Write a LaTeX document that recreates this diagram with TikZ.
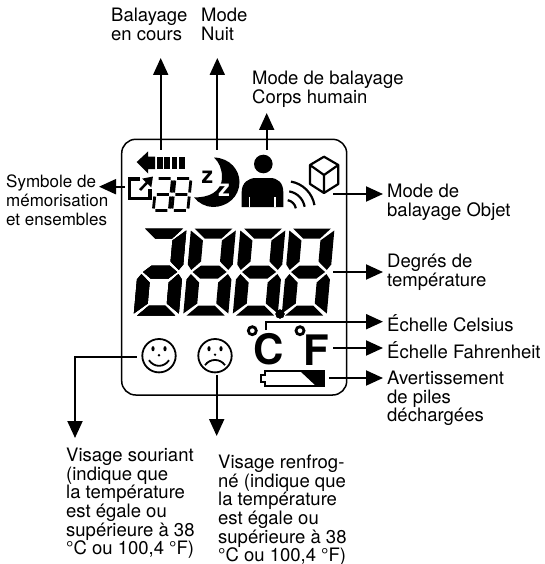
\documentclass[tikz,border=0pt]{standalone}
\usepackage{fontspec}
\setmainfont{TeX Gyre Heros}
\usetikzlibrary{arrows.meta}
\tikzset{
  lbl/.style={anchor=north west, inner sep=0pt, align=left, font=\fontsize{18.5}{18.6}\selectfont},
  conn/.style={line width=2pt, -{Triangle[length=17pt, width=15pt]}},
  face/.style={line width=1.8pt}
}
\newcommand{\lcdmost}{
  \fill (3,0) -- (41,0) -- (31,10) -- (14,10) -- cycle;
  \fill (44.5,2) -- (44.5,36) -- (40.5,41.5) -- (31.5,33) -- (31.5,12) -- cycle;
  \fill (5,43.5) -- (13,37) -- (31,37) -- (39,43.5) -- (31,50) -- (13,50) -- cycle;
  \fill (44.5,51) -- (44.5,85) -- (31.5,75) -- (31.5,54) -- (40.5,45.5) -- cycle;
  \fill (3,87) -- (41,87) -- (30,77) -- (14,77) -- cycle;
  \fill (-0.5,51) -- (-0.5,85) -- (12.5,75) -- (12.5,54) -- (3.5,45.5) -- cycle;
}
\newcommand{\lcdleft}{
  \fill (-0.5,2) -- (-0.5,36) -- (3.5,41.5) -- (12.5,33) -- (12.5,12) -- cycle;
}
\newcommand{\lcdsmall}{
  \draw (2,0) -- (14,0) (16,2) -- (16,14) (2,16) -- (14,16) (16,18) -- (16,30)
        (2,32) -- (14,32) (0,18) -- (0,30);
}
\begin{document}
\begin{tikzpicture}[x=1pt, y=-1pt]
  \useasboundingbox (0,0) rectangle (545,564);
  \draw[line width=1.5pt, rounded corners=14pt] (121.7,139.3) rectangle (346.7,395);

  \node[lbl] (balayage) at (111,8) {Balayage\\en cours};
  \node[lbl] (nuit) at (201,8) {Mode\\Nuit};
  \node[lbl] (corps) at (252,71) {Mode de balayage\\Corps humain};
  \node[lbl, font=\fontsize{17}{18.7}\selectfont] (symbole) at (6,175) {Symbole de\\mémorisation\\et ensembles};
  \node[lbl] (objet) at (387,184) {Mode de\\balayage Objet};
  \node[lbl] (degres) at (387,254) {Degrés de\\température};
  \node[lbl] (celsius) at (387,314) {Échelle Celsius};
  \node[lbl] (fahr) at (387,341) {Échelle Fahrenheit};
  \node[lbl] (piles) at (387,371) {Avertissement\\de piles\\déchargées};
  \node[lbl] (souriant) at (66,448) {Visage souriant\\(indique que\\la température\\est égale ou\\supérieure à 38\\°C ou 100,4 °F)};
  \node[lbl] (renfrogne) at (218,455) {Visage renfrog-\\né (indique que\\la température\\est égale ou\\supérieure à 38\\°C ou 100,4 °F)};

  \coordinate (scan) at (160.7,150);
  \coordinate (moon) at (217.3,150);
  \coordinate (body) at (266.7,150);
  \coordinate (memo) at (125,186.7);
  \coordinate (cube) at (333,194);
  \coordinate (temp) at (333,272);
  \coordinate (cdeg) at (265.7,330);
  \coordinate (fdeg) at (333,348);
  \coordinate (batt) at (329,378);
  \coordinate (smile) at (136.7,357);
  \coordinate (frown) at (216.7,375);
  \coordinate (scantip) at (160.7,58);
  \coordinate (moontip) at (217.3,58);
  \coordinate (bodytip) at (266.7,113);
  \coordinate (memotip) at (99,186.7);
  \coordinate (smiletip) at (75,438);
  \coordinate (frowntip) at (216.7,436);

  \draw[conn] (scan) -- (scantip);
  \draw[conn] (moon) -- (moontip);
  \draw[conn] (body) -- (bodytip);
  \draw[conn] (memo) -- (memotip);
  \draw[conn, shorten >=4pt] (cube) -- (cube -| objet.west);
  \draw[conn, shorten >=4pt] (temp) -- (temp -| degres.west);
  \draw[conn, shorten >=4pt] (cdeg) |- (cdeg |- 0,321.7) -- (celsius.west |- 0,321.7);
  \draw[conn, shorten >=4pt] (fdeg) -- (fdeg -| fahr.west);
  \draw[conn, shorten >=4pt] (batt) -- (batt -| piles.west);
  \draw[conn] (smile) -| (smiletip);
  \draw[conn] (frown) -- (frowntip);

  \fill (136.7,162) -- (148,151.5) -- (148,156.7) -- (155,156.7) -- (155,169) -- (148,169) -- (148,173.5) -- cycle;
  \foreach \xbar in {157,164.3,171.6,178.9}
    \fill (\xbar,156.7) rectangle ++(5.8,12.5);

  \draw[line width=3.2pt] (140,179) -- (129.3,179) -- (129.3,198.3) -- (150,198.3) -- (150,189);
  \draw[line width=2.6pt, -{Triangle[length=9pt, width=12pt]}] (140,190) -- (153,176.5);

  \begin{scope}[shift={(156.5,178.5)}, xslant=0.1, line width=2.8pt]
    \lcdsmall
  \end{scope}
  \begin{scope}[shift={(175,178.5)}, xslant=0.1, line width=2.8pt]
    \lcdsmall
    \draw (0,2) -- (0,14);
  \end{scope}

  \fill (214,157.5) .. controls (230,158) and (239.5,170) .. (239.5,182)
        .. controls (239.5,197) and (227,207) .. (213,207)
        .. controls (206,207) and (198,203) .. (194,197.3)
        .. controls (208,198) and (222,192) .. (222,177)
        .. controls (222,169) and (219,162) .. cycle;
  \node[inner sep=0pt, font=\fontsize{23}{23}\bfseries\selectfont] (zblack) at (207.3,177) {z};
  \node[inner sep=0pt, text=white, font=\fontsize{23}{23}\bfseries\selectfont] (zwhite) at (224,190.3) {z};

  \fill (263.3,164) circle (9.3);
  \fill (241.7,207) -- (241.7,192) .. controls (241.7,183) and (248,178) .. (256,178)
        -- (270,178) .. controls (278,178) and (283.3,183) .. (283.3,192) -- (283.3,207) -- cycle;
  \draw[white, line width=1.2pt] (249.5,197) -- (249.5,207) (275,197) -- (275,207);

  \foreach \rwave in {10,19,29}
    \draw[line width=2.2pt] (286+\rwave*0.17,210-\rwave*0.98) arc[start angle=-80, end angle=-10, radius=\rwave];

  \draw[line width=2.2pt, line join=round] (324,156.7) -- (338.3,165) -- (338.3,184) -- (324,193) -- (310,184) -- (310,165) -- cycle
        (310,165) -- (324,175) -- (338.3,165) (324,175) -- (324,193);

  \foreach \xdig in {191.5,241,290}
    \begin{scope}[shift={(\xdig,228.5)}, xslant=0.09]
      \lcdmost
      \lcdleft
    \end{scope}
  \begin{scope}[shift={(142,228.5)}, xslant=0.09]
    \lcdmost
  \end{scope}
  \fill (280,314) circle (4.5);

  \draw[line width=2.8pt] (252.3,330.7) circle (4) (300,330.7) circle (4);
  \node[inner sep=0pt, font=\fontsize{42}{42}\bfseries\selectfont] (cunit) at (269,349) {C};
  \node[inner sep=0pt, font=\fontsize{42}{42}\bfseries\selectfont] (funit) at (316.7,350) {F};

  \begin{scope}[shift={(159,355.7)}]
    \draw[face] (0,0) circle (16.7);
    \fill (-6,-7) ellipse (1.6 and 2.6) (6,-7) ellipse (1.6 and 2.6) (0,-0.5) circle (1.3);
    \draw[face] (-10,4.5) .. controls (-5,12) and (5,12) .. (10,4.5);
  \end{scope}
  \begin{scope}[shift={(215,355.7)}]
    \draw[face] (0,0) circle (16.7);
    \fill (-6,-7) ellipse (1.6 and 2.6) (6,-7) ellipse (1.6 and 2.6) (0,-1) circle (1.3);
    \draw[face] (-10,9.5) .. controls (-5,2.5) and (5,2.5) .. (10,9.5);
  \end{scope}

  \draw[line width=2.6pt] (265,371) -- (324,371) -- (324,386) -- (265,386) -- (265,382) -- (261,382) -- (261,375) -- (265,375) -- cycle;
  \fill (300,371) -- (324,371) -- (324,386) -- (316,386) -- cycle;
\end{tikzpicture}
\end{document}
